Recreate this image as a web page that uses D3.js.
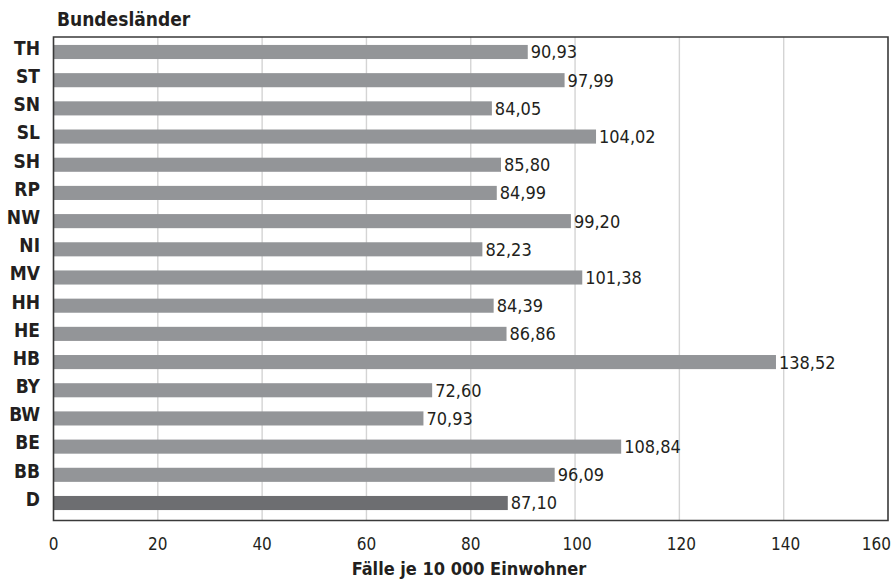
<!DOCTYPE html>
<html>
<head>
<meta charset="utf-8">
<script src="https://cdn.jsdelivr.net/npm/d3@7"></script>
<style>
  html, body { margin: 0; padding: 0; background: #fff; }
  svg { display: block; }
  .cond { font-family: "Liberation Sans Narrow", "DejaVu Sans Condensed", "Open Sans", sans-serif; }
</style>
</head>
<body>
<svg id="chart" width="895" height="583"></svg>
<script>
// Bundesländer, top to bottom
const states = ["TH", "ST", "SN", "SL", "SH", "RP", "NW", "NI", "MV", "HH", "HE", "HB", "BY", "BW", "BE", "BB", "D"];
// Fälle je 10 000 Einwohner
const cases = [90.93, 97.99, 84.05, 104.02, 85.80, 84.99, 99.20, 82.23, 101.38, 84.39, 86.86, 138.52, 72.60, 70.93, 108.84, 96.09, 87.10];
const xTicks = [0, 20, 40, 60, 80, 100, 120, 140, 160];

const svg = d3.select("#chart");
const frame = { left: 53.5, right: 888, top: 37, bottom: 520.5 };

const x = d3.scaleLinear().domain([0, 160]).range([frame.left, frame.right]);
const y = d3.scaleBand().domain(states).range([37.9, 517.1]).paddingInner(0.5).paddingOuter(0.25);

const fmt = v => d3.format(".2f")(v).replace(".", ",");

// vertical gridlines
svg.append("g").selectAll("line")
  .data(xTicks.filter(t => t > 0 && t < 160))
  .join("line")
  .attr("x1", d => x(d)).attr("x2", d => x(d))
  .attr("y1", frame.top).attr("y2", frame.bottom)
  .attr("stroke", "#d4d4d4").attr("stroke-width", 1.4);

// bars
svg.append("g").selectAll("rect")
  .data(states)
  .join("rect")
  .attr("x", x(0))
  .attr("y", d => y(d))
  .attr("width", (d, i) => x(cases[i]) - x(0))
  .attr("height", y.bandwidth())
  .attr("fill", d => d === "D" ? "#6d6e71" : "#939598");

// value labels
svg.append("g").attr("class", "cond").selectAll("text")
  .data(states)
  .join("text")
  .attr("x", (d, i) => x(cases[i]) + 3)
  .attr("y", d => y(d) + y.bandwidth() / 2)
  .attr("dy", "0.36em")
  .attr("font-size", 18)
  .attr("fill", "#231f20")
  .text((d, i) => fmt(cases[i]));

// frame
svg.append("path")
  .attr("d", `M${frame.left},${frame.top}H${frame.right}V${frame.bottom}H${frame.left}Z`)
  .attr("fill", "none").attr("stroke", "#3a3a3a").attr("stroke-width", 1.6);

// category axis labels
svg.append("g").attr("class", "cond").selectAll("text")
  .data(states)
  .join("text")
  .attr("x", 40)
  .attr("y", d => y(d) + y.bandwidth() / 2 - 4)
  .attr("dy", "0.36em")
  .attr("text-anchor", "end")
  .attr("font-size", 19)
  .attr("font-weight", "bold")
  .attr("fill", "#231f20")
  .text(d => d);

// value axis tick labels (last one kept inside the canvas)
svg.append("g").attr("class", "cond").selectAll("text")
  .data(xTicks)
  .join("text")
  .attr("x", d => d === 160 ? 891 : x(d) + (d >= 100 ? 2 : 0))
  .attr("y", 550)
  .attr("text-anchor", d => d === 160 ? "end" : "middle")
  .attr("font-size", 17)
  .attr("fill", "#231f20")
  .text(d => d);

// titles
svg.append("text").attr("class", "cond")
  .attr("x", 57).attr("y", 26)
  .attr("font-size", 19).attr("font-weight", "bold").attr("fill", "#231f20")
  .text("Bundesländer");

svg.append("text").attr("class", "cond")
  .attr("x", 469).attr("y", 575)
  .attr("text-anchor", "middle")
  .attr("font-size", 18).attr("font-weight", "bold").attr("fill", "#231f20")
  .text("Fälle je 10 000 Einwohner");
</script>
</body>
</html>
